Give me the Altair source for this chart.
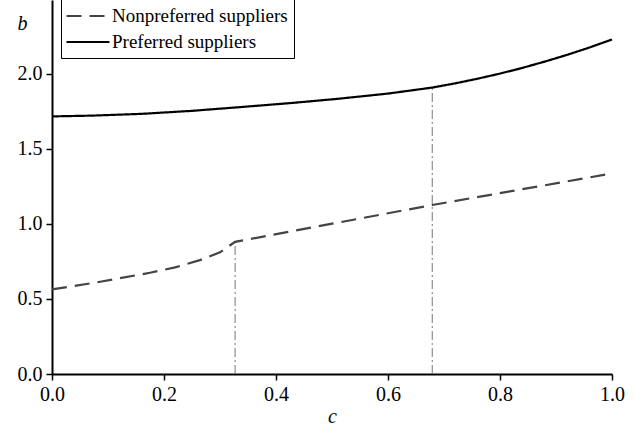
import altair as alt
import pandas as pd

# Preferred suppliers (solid)
c_pref = [0.0, 0.07, 0.16, 0.25, 0.34, 0.43, 0.51, 0.60, 0.679, 0.72, 0.76, 0.80, 0.84, 0.88, 0.92, 0.96, 1.0]
b_pref = [1.715, 1.72, 1.732, 1.752, 1.778, 1.805, 1.832, 1.867, 1.907, 1.935, 1.966, 2.0, 2.038, 2.08, 2.125, 2.174, 2.227]

# Nonpreferred suppliers (dashed)
c_non = [0.0, 0.086, 0.175, 0.22, 0.264, 0.30, 0.327, 0.679, 1.0]
b_non = [0.563, 0.614, 0.674, 0.71, 0.758, 0.81, 0.88, 1.125, 1.335]

# Vertical dash-dot markers
v_c = [0.327, 0.679]
v_b = [0.88, 1.907]

series = ["Nonpreferred suppliers", "Preferred suppliers"]

df = pd.concat([
    pd.DataFrame({"c": c_non, "b": b_non, "s": series[0]}),
    pd.DataFrame({"c": c_pref, "b": b_pref, "s": series[1]}),
])
vdf = pd.DataFrame({"c": v_c, "b": v_b, "b0": [0.0] * len(v_c)})

FONT = "Liberation Serif"

x_scale = alt.Scale(domain=[0, 1])
y_scale = alt.Scale(domain=[0, 2.49])

leg = dict(title=None, orient="none", legendX=9, legendY=-2,
           symbolType="M-2,0H2", symbolSize=462, symbolStrokeWidth=2,
           symbolOffset=9, labelFont=FONT, labelFontSize=19, labelColor="black",
           labelLimit=400, labelOffset=12, rowPadding=4, padding=6,
           strokeColor="black", fillColor="white")

lines = alt.Chart(df).mark_line(strokeWidth=2.2).encode(
    x=alt.X("c:Q", scale=x_scale,
            axis=alt.Axis(title="c", values=[0, 0.2, 0.4, 0.6, 0.8, 1.0], format=".1f",
                          titleFontStyle="italic", titleFontWeight="normal", titlePadding=2)),
    y=alt.Y("b:Q", scale=y_scale,
            axis=alt.Axis(title="b", values=[0, 0.5, 1.0, 1.5, 2.0], format=".1f",
                          titleAngle=0, titleFontStyle="italic", titleFontWeight="normal",
                          titleX=-30, titleY=23, titleAlign="center", titleBaseline="middle")),
    color=alt.Color("s:N", scale=alt.Scale(domain=series, range=["#444444", "#000000"]),
                    legend=alt.Legend(**leg)),
    strokeDash=alt.StrokeDash("s:N", scale=alt.Scale(domain=series, range=[[15, 8], [1, 0]]),
                              legend=alt.Legend(**leg)),
)

rules = alt.Chart(vdf).mark_rule(color="#777777", strokeWidth=1, strokeDash=[9, 3, 2, 3]).encode(
    x=alt.X("c:Q", scale=x_scale),
    y=alt.Y("b0:Q", scale=y_scale),
    y2="b:Q",
)

chart = alt.layer(rules, lines).properties(
    width=560, height=374,
    padding={"left": 52, "top": 0, "right": 23, "bottom": 58},
    autosize=alt.AutoSizeParams(type="none"),
).configure_view(stroke=None).configure_axis(
    grid=False, domainColor="black", domainWidth=2, tickColor="black", tickWidth=1.5,
    tickSize=6, labelFont=FONT, labelFontSize=20, labelColor="black", labelPadding=4,
    titleFont=FONT, titleFontSize=20, titleColor="black",
).configure_axisX(labelFlush=False)

chart.save("out.html", embed_options={"renderer": "svg", "actions": False})
